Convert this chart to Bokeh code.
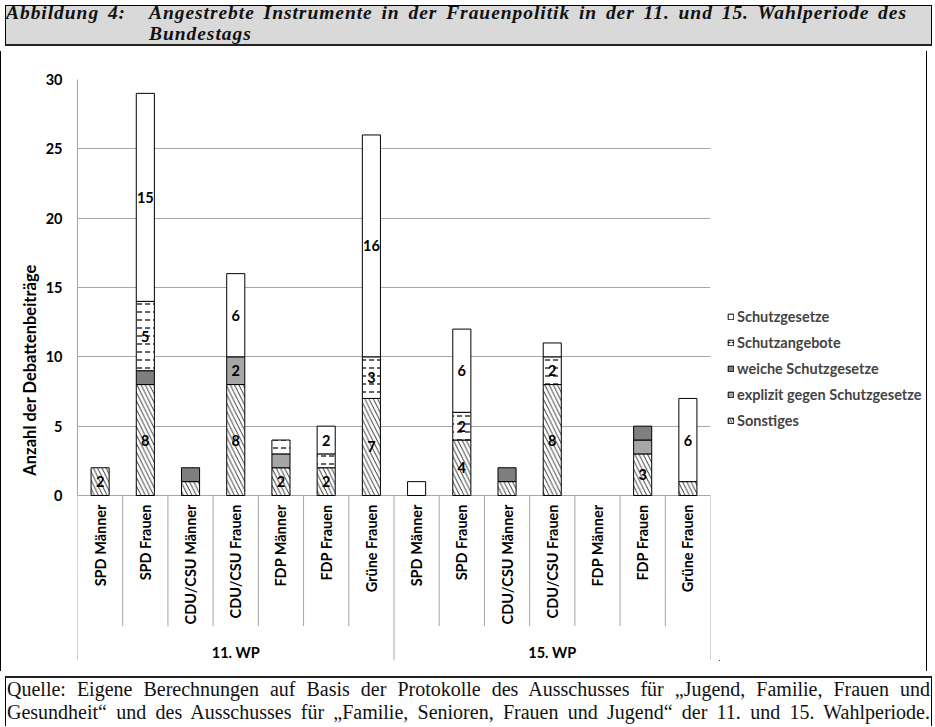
import numpy as np
from bokeh.plotting import figure
from bokeh.models import (FactorRange, FixedTicker, Legend, LegendItem, ColumnDataSource,
                          Div, Range1d)
from bokeh.layouts import column, row
from bokeh.core.properties import value
from bokeh.embed import file_html
from bokeh.resources import INLINE

# ---------------- data ----------------
periods = ["11. WP", "15. WP"]
groups = ["SPD Männer", "SPD Frauen", "CDU/CSU Männer", "CDU/CSU Frauen",
          "FDP Männer", "FDP Frauen", "Grüne Frauen"]
series_names = ["Sonstiges", "explizit gegen Schutzgesetze", "weiche Schutzgesetze",
                "Schutzangebote", "Schutzgesetze"]

sonstiges = [2, 8, 1, 8, 2, 2, 7, 0, 4, 1, 8, 0, 3, 1]
explizit  = [0, 0, 0, 2, 1, 0, 0, 0, 0, 0, 0, 0, 1, 0]
weiche    = [0, 1, 1, 0, 0, 0, 0, 0, 0, 1, 0, 0, 1, 0]
angebote  = [0, 5, 0, 0, 1, 1, 3, 0, 2, 0, 2, 0, 0, 0]
gesetze   = [0, 15, 0, 6, 0, 2, 16, 1, 6, 0, 1, 0, 0, 6]

y_ticks = [0, 5, 10, 15, 20, 25, 30]

title_label = "Abbildung 4:"
title_text = "Angestrebte Instrumente in der Frauenpolitik in der 11. und 15. Wahlperiode des"
title_text2 = "Bundestags"
y_label = "Anzahl der Debattenbeiträge"
source_line1 = "Quelle: Eigene Berechnungen auf Basis der Protokolle des Ausschusses für „Jugend, Familie, Frauen und"
source_line2 = "Gesundheit“ und des Ausschusses für „Familie, Senioren, Frauen und Jugend“ der 11. und 15. Wahlperiode."

# ---------------- styling ----------------
FONT = "Lato"
FS = "14.5px"
GRID = "#a6a6a6"
keys = ["sonst", "expl", "weich", "angeb", "gesetz"]
values_list = [sonstiges, explizit, weiche, angebote, gesetze]
fills = ["white", "#a6a6a6", "#7f7f7f", "white", "white"]
hatches = ["left_diagonal_line", None, None, "horizontal_dash", None]
hscales = [8.5, 6.0, 6.0, 8.0, 6.0]
hweights = [0.8, 0.8, 0.8, 1.2, 0.8]
CLEAR = "rgba(0,0,0,0)"

factors = [(pr, g) for pr in periods for g in groups]
data = {"x": factors}
for k, v in zip(keys, values_list):
    data[k] = v
    data[k + "_lc"] = ["black" if val > 0 else CLEAR for val in v]
src = ColumnDataSource(data)

xr = FactorRange(factors=factors, factor_padding=0, group_padding=0,
                 subgroup_padding=0, range_padding=0)
y_bottom = -11.9
TOTAL_W = 927
MAIN_W, FIG_H = 718, 620
LEG_W = TOTAL_W - 2 - MAIN_W
p = figure(x_range=xr, y_range=Range1d(y_bottom, y_ticks[-1]), width=MAIN_W, height=FIG_H,
           output_backend="svg", toolbar_location=None, x_axis_location=None,
           title=None, min_border_left=76, min_border_right=9, min_border_top=28,
           min_border_bottom=11, outline_line_color=None)

renderers = p.vbar_stack(keys, x="x", width=0.4, source=src, fill_color=fills,
                         line_color=[k + "_lc" for k in keys], line_width=1,
                         hatch_pattern=hatches, hatch_color="black",
                         hatch_scale=hscales, hatch_weight=hweights)

# data labels (segments of 2 or more)
lx, ly, lt = [], [], []
bottoms = np.zeros(len(factors))
for vals in values_list:
    for j, v in enumerate(vals):
        if v >= 2:
            lx.append(factors[j]); ly.append(bottoms[j] + v / 2); lt.append(str(v))
    bottoms += np.array(vals)
p.text(x=lx, y=ly, text=lt, text_font=value(FONT), text_font_style="bold",
       text_font_size=FS, text_align="center", text_baseline="middle",
       text_color="black")

# category labels
p.text(x=factors, y=[0] * len(factors), text=[f[1] for f in factors], angle=np.pi / 2,
       text_align="right", text_baseline="middle", y_offset=9,
       text_font=value(FONT), text_font_style="bold", text_font_size=FS,
       text_color="black")
# group labels
p.text(x=periods, y=[0] * len(periods), text=periods, y_offset=157,
       text_align="center", text_baseline="middle",
       text_font=value(FONT), text_font_style="bold", text_font_size=FS,
       text_color="black")

# separators (category boundaries below the axis)
sx0, sy0, sy1 = [], [], []
inner_depth = -9.42
n_per = len(groups)
for j, f in enumerate(factors):
    sx0.append((f[0], f[1], -0.5)); sy0.append(0)
    sy1.append(y_bottom if j % n_per == 0 else inner_depth)
sx0.append((factors[-1][0], factors[-1][1], 0.5)); sy0.append(0); sy1.append(y_bottom)
p.segment(x0=sx0, y0=sy0, x1=sx0, y1=sy1, line_color=GRID, line_width=1)

# axes
p.yaxis.ticker = FixedTicker(ticks=y_ticks)
p.yaxis.bounds = (y_ticks[0], y_ticks[-1])
p.yaxis.major_tick_line_color = None
p.yaxis.minor_tick_line_color = None
p.yaxis.axis_line_color = GRID
p.yaxis.major_label_text_font = FONT
p.yaxis.major_label_text_font_style = "bold"
p.yaxis.major_label_text_font_size = FS
p.yaxis.major_label_text_color = "black"
p.yaxis.major_label_standoff = 9
p.yaxis.axis_label = y_label
p.yaxis.axis_label_text_font = FONT
p.yaxis.axis_label_text_font_style = "bold"
p.yaxis.axis_label_text_font_size = "16.5px"
p.yaxis.axis_label_text_color = "black"
p.yaxis.axis_label_standoff = 3
p.ygrid.ticker = FixedTicker(ticks=y_ticks)
p.ygrid.grid_line_color = GRID
p.xgrid.visible = False

# ---------------- legend (separate panel to the right of the plot area) ----------------
lf = figure(width=LEG_W, height=FIG_H, output_backend="svg", toolbar_location=None,
            x_axis_location=None, y_axis_location=None, title=None,
            x_range=Range1d(0, 1), y_range=Range1d(0, 1),
            min_border=0, outline_line_color=None)
lf.xgrid.visible = False
lf.ygrid.visible = False
leg_renderers = []
for i, k in enumerate(keys):
    # zero-size stub outside the visible range: only its legend swatch is shown
    r = lf.vbar(x=[-5], top=[-5], bottom=-5, width=0, fill_color=fills[i],
                line_color="black", line_width=1, hatch_pattern=hatches[i],
                hatch_color="black", hatch_scale=hscales[i] * 0.6,
                hatch_weight=hweights[i])
    leg_renderers.append(r)
items = [LegendItem(label=s, renderers=[r]) for s, r in zip(series_names, leg_renderers)][::-1]
legend = Legend(items=items, location=(8, 231), glyph_width=7, glyph_height=7,
                label_standoff=3, label_text_font=FONT, label_text_font_style="bold",
                label_text_font_size=FS, label_height=14, spacing=9, padding=0,
                margin=0, border_line_color=None, background_fill_alpha=0)
lf.add_layout(legend)

# ---------------- frame pieces ----------------
span_style = "display:inline-block;vertical-align:top;margin-top:-4px"
title_div = Div(
    text=(f'<div style="width:{TOTAL_W - 4}px;white-space:nowrap">'
          f'<span style="{span_style};width:143px">{title_label}</span>'
          f'<span style="{span_style}">{title_text}<br>{title_text2}</span></div>'),
    width=TOTAL_W, height=41,
    styles={"background-color": "#d9d9d9", "border": "1px solid #000",
            "border-bottom": "2px solid #222", "box-sizing": "border-box",
            "font-family": "Liberation Serif", "font-style": "italic", "font-weight": "bold",
            "font-size": "19.5px", "line-height": "21px", "letter-spacing": "0.95px",
            "word-spacing": "3px", "color": "#111", "overflow": "visible"})
chart_row = row(p, lf, spacing=0,
                styles={"border-left": "1px solid #000", "border-right": "1px solid #000"})
source_div = Div(
    text=(f'<div style="width:{TOTAL_W - 4}px;text-align:justify;text-align-last:justify">'
          f'{source_line1}<br>{source_line2}</div>'),
    width=TOTAL_W, height=50,
    styles={"border-top": "2px solid #222", "border-left": "1px solid #000",
            "border-right": "1px solid #000", "box-sizing": "border-box",
            "font-family": "Liberation Serif", "font-size": "20px", "line-height": "23px",
            "color": "#111", "overflow": "visible", "padding-left": "1px"})

layout = column(title_div, chart_row, source_div, spacing=0)

open("out.html", "w").write(file_html(layout, INLINE))
